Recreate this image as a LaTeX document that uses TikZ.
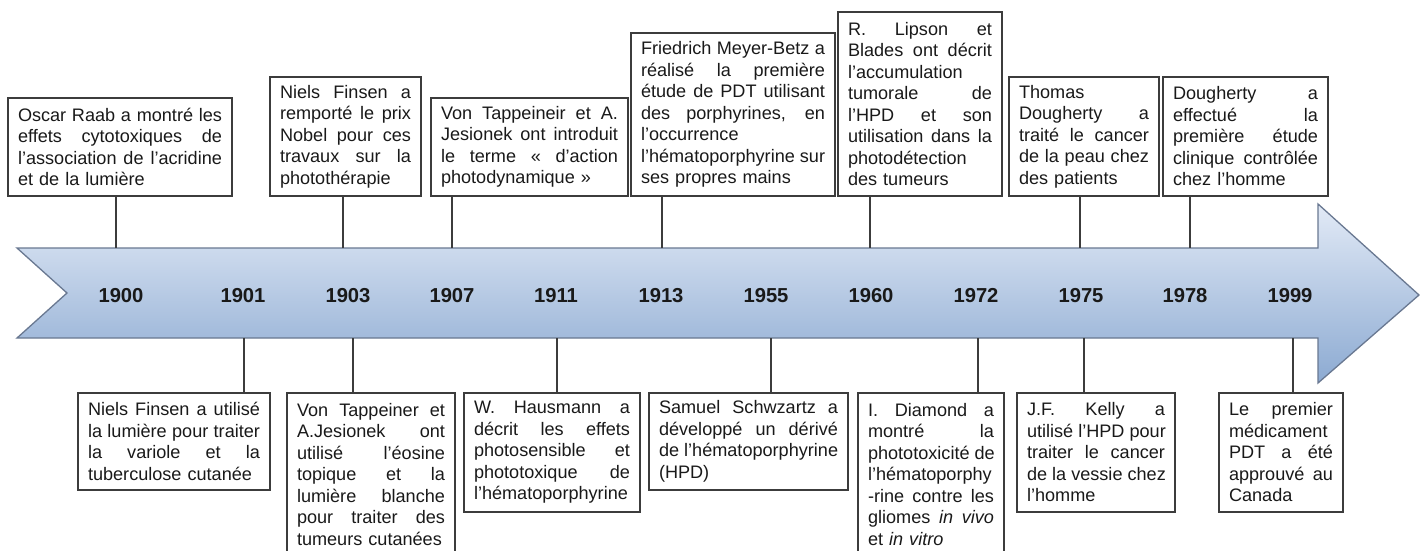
\documentclass[tikz,border=0pt]{standalone}
\usepackage{fontspec}
\setmainfont{Liberation Sans}
\definecolor{fleche1}{RGB}{226,234,246}
\definecolor{fleche2}{RGB}{140,170,210}
\definecolor{flechebord}{RGB}{105,120,145}
\definecolor{cadre}{RGB}{60,60,60}
% one justified line, one ragged line
\newlength\boxw
\newcommand\jl[1]{\hbox to\boxw{\spaceskip=.278em plus 1fil\xspaceskip=\spaceskip #1}}
\newcommand\lf[1]{\hbox to\boxw{#1\hfil}}
\tikzset{
  evtbox/.style={
    rectangle,
    draw=cadre, line width=1.2pt,
    anchor=north west,
    text width=#1,
    execute at begin node={\setlength\boxw{#1}},
    inner xsep=10pt, inner ysep=0pt, outer sep=0pt,
    font=\fontsize{18.1}{21.5}\selectfont,
    text=black!90},
  yearlbl/.style={font=\bfseries\fontsize{20.2}{24}\selectfont, text=black!90},
  conn/.style={draw=cadre, line width=1.2pt},
  frise/.style={draw=flechebord, line width=1.3pt,
    top color=fleche1, bottom color=fleche2},
}

\begin{document}
\begin{tikzpicture}[x=1pt,y=-1pt]
  \useasboundingbox (0,0) rectangle (1424,551);
  % the big arrow
  \path[frise] (17,248) -- (1318,248) -- (1318,204) -- (1419,295)
    -- (1318,383) -- (1318,338) -- (17,338) -- (67,293) -- cycle;
  \coordinate (atop) at (0,248);
  \coordinate (abot) at (0,338);
  \foreach \yr/\xx in {1900/121,1901/243,1903/348,1907/452,1911/556,1913/661,
      1955/766,1960/871,1972/976,1975/1081,1978/1185,1999/1290}
    \node[yearlbl] (y\yr) at (\xx,296) {\yr};

  % events above
  \node[evtbox=204pt, minimum height=98pt] (t1) at (8,98) {%
    \jl{Oscar Raab a montré les}
    \jl{effets cytotoxiques de}
    \jl{l’association de l’acridine}
    \lf{et de la lumière}};
  \node[evtbox=131pt, minimum height=119pt] (t2) at (270,77) {%
    \jl{Niels Finsen a}
    \jl{remporté le prix}
    \jl{Nobel pour ces}
    \jl{travaux sur la}
    \lf{photothérapie}};
  \node[evtbox=177pt, minimum height=98pt] (t3) at (431,98) {%
    \jl{Von Tappeineir et A.}
    \jl{Jesionek ont introduit}
    \jl{le terme « d’action}
    \lf{photodynamique »}};
  \node[evtbox=184pt, minimum height=163pt] (t4) at (631,33) {%
    \jl{Friedrich Meyer-Betz a}
    \jl{réalisé la première}
    \jl{étude de PDT utilisant}
    \jl{des porphyrines, en}
    \lf{l’occurrence}
    \jl{l’hématoporphyrine sur}
    \lf{ses propres mains}};
  \node[evtbox=144pt, minimum height=184pt] (t5) at (838,12) {%
    \jl{R. Lipson et}
    \jl{Blades ont décrit}
    \lf{l’accumulation}
    \jl{tumorale de}
    \jl{l’HPD et son}
    \jl{utilisation dans la}
    \lf{photodétection}
    \lf{des tumeurs}};
  \node[evtbox=130pt, minimum height=119pt] (t6) at (1009,77) {%
    \lf{Thomas}
    \jl{Dougherty a}
    \jl{traité le cancer}
    \jl{de la peau chez}
    \lf{des patients}};
  \node[evtbox=145pt, minimum height=119pt] (t7) at (1163,77) {%
    \jl{Dougherty a}
    \jl{effectué la}
    \jl{première étude}
    \jl{clinique contrôlée}
    \lf{chez l’homme}};

  % events below
  \node[evtbox=172pt, minimum height=97pt] (b1) at (78,393) {%
    \jl{Niels Finsen a utilisé}
    \jl{la lumière pour traiter}
    \jl{la variole et la}
    \lf{tuberculose cutanée}};
  \node[evtbox=148pt, minimum height=163pt] (b2) at (287,393) {%
    \jl{Von Tappeiner et}
    \jl{A.Jesionek ont}
    \jl{utilisé l’éosine}
    \jl{topique et la}
    \jl{lumière blanche}
    \jl{pour traiter des}
    \lf{tumeurs cutanées}};
  \node[evtbox=156pt, minimum height=119pt] (b3) at (464,393) {%
    \jl{W. Hausmann a}
    \jl{décrit les effets}
    \jl{photosensible et}
    \jl{phototoxique de}
    \lf{l’hématoporphyrine}};
  \node[evtbox=179pt, minimum height=97pt] (b4) at (649,393) {%
    \jl{Samuel Schwzartz a}
    \jl{développé un dérivé}
    \jl{de l’hématoporphyrine}
    \lf{(HPD)}};
  \node[evtbox=126pt, minimum height=163pt] (b5) at (858,393) {%
    \jl{I. Diamond a}
    \jl{montré la}
    \jl{phototoxicité de}
    \lf{l’hématoporphy}
    \jl{-rine contre les}
    \jl{gliomes \textit{in vivo}}
    \lf{et \textit{in vitro}}};
  \node[evtbox=138pt, minimum height=119pt] (b6) at (1017,393) {%
    \jl{J.F. Kelly a}
    \jl{utilisé l’HPD pour}
    \jl{traiter le cancer}
    \jl{de la vessie chez}
    \lf{l’homme}};
  \node[evtbox=104pt, minimum height=119pt] (b7) at (1219,393) {%
    \jl{Le premier}
    \lf{médicament}
    \jl{PDT a été}
    \jl{approuvé au}
    \lf{Canada}};

  % stems
  \foreach \bx/\yr/\dx in {t1/1900/-5,t2/1903/-5,t3/1907/0,t4/1913/1,
      t5/1960/-1,t6/1975/-1,t7/1978/5}
    \draw[conn] ([xshift=\dx pt]y\yr |- \bx.south) -- ([xshift=\dx pt]y\yr |- atop);
  \foreach \bx/\yr/\dx in {b1/1901/1,b2/1903/5,b3/1911/1,b4/1955/5,
      b5/1972/2,b6/1975/3,b7/1999/3}
    \draw[conn] ([xshift=\dx pt]y\yr |- abot) -- ([xshift=\dx pt]y\yr |- \bx.north);
\end{tikzpicture}
\end{document}
